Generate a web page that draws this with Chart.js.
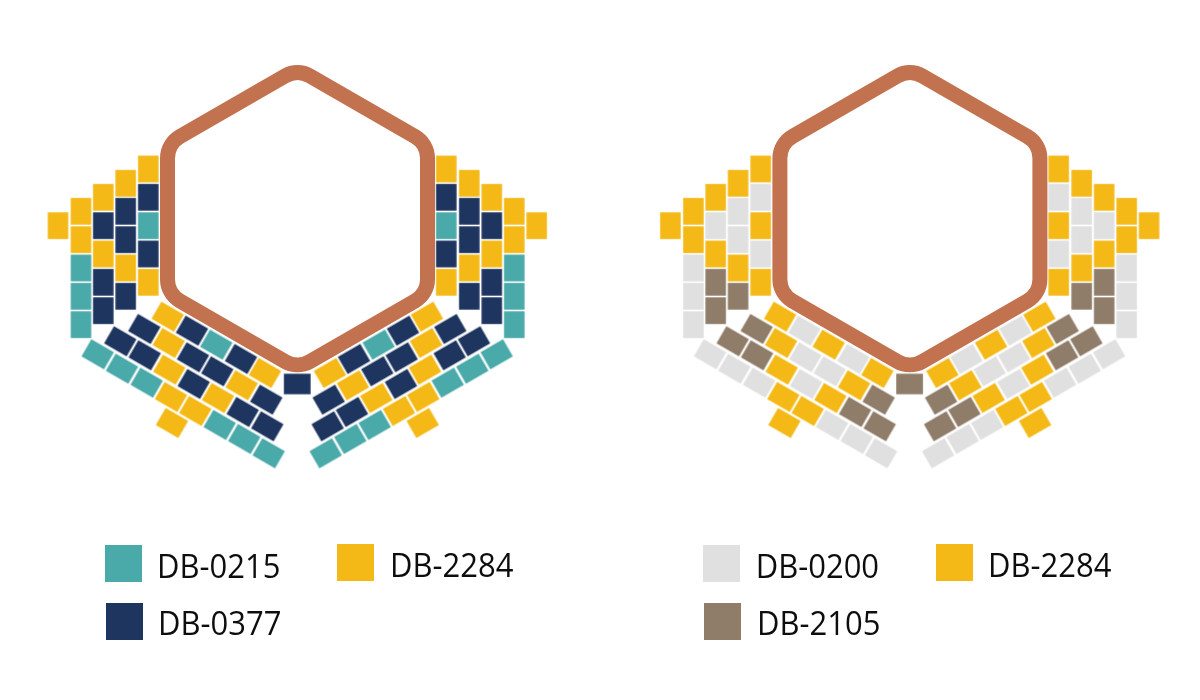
<!DOCTYPE html>
<html lang="en">
<head>
  <meta charset="UTF-8">
  <title>Bead patterns</title>
  <script src="https://cdn.jsdelivr.net/npm/chart.js"></script>
  <style>
    html, body { margin: 0; padding: 0; background: #fff; }
    #wrap { position: relative; width: 1200px; height: 700px; overflow: hidden; }
    canvas { position: absolute; left: 0; top: 0; }
    .swatch { position: absolute; width: 37px; height: 37px; }
    .label {
      position: absolute;
      font-family: "Open Sans", sans-serif;
      font-size: 31px;
      line-height: 40px;
      color: #0d0d0d;
      white-space: nowrap;
      transform: scaleY(1.07);
      transform-origin: 0 32px;
    }
  </style>
</head>
<body>
<div id="wrap"><canvas id="beads" width="1200" height="700"></canvas></div>
<script>
  // bead codes
  const T = 'DB-0215', N = 'DB-0377', G = 'DB-2284', W = 'DB-0200', B = 'DB-2105';

  const colours = {
    'DB-0215': '#4aa9a9',
    'DB-0377': '#1e3560',
    'DB-2284': '#f4b917',
    'DB-0200': '#e0e0e0',
    'DB-2105': '#8f7c69'
  };

  // side panels, outer column first
  const sideLeftX = [58, 81, 81, 81, 81, 81, 103.3, 103.3, 103.3, 103.3, 103.3, 125.7, 125.7, 125.7, 125.7, 125.7, 148.3, 148.3, 148.3, 148.3, 148.3];
  const sideRightX = [536.7, 514.3, 514.3, 514.3, 514.3, 514.3, 491.8, 491.8, 491.8, 491.8, 491.8, 469.3, 469.3, 469.3, 469.3, 469.3, 446.3, 446.3, 446.3, 446.3, 446.3];
  const sideY = [225.7, 211.3, 239.7, 268, 296.3, 324.7, 197.3, 225.7, 254, 282.3, 310.7, 183.3, 211.3, 239.7, 268, 296.3, 169, 197.3, 225.7, 254, 282.3];

  const sideCodesA = [G, G, G, T, T, T, G, N, G, N, N, G, N, N, G, N, G, N, T, N, G];
  const sideCodesB = [G, G, G, W, W, W, G, W, G, B, B, G, W, W, G, B, G, W, G, W, G];

  // lower fans, row next to the hexagon first, outer end of each row first
  const lowerLeftX = [167.7, 192, 216.3, 241, 265,
    144.3, 168.7, 193, 217.3, 241.7, 266.3,
    120.3, 144.7, 169.3, 193.7, 218, 242.7, 267.3,
    97.7, 122, 146.7, 171, 195.3, 219.7, 244.3, 268.7,
    172];
  const lowerRightX = [427, 403, 378.7, 354, 330,
    450.3, 426, 401.7, 377.3, 353, 328.7,
    474, 449.7, 425, 401, 376.3, 352, 327.7,
    496.7, 472.3, 447.7, 423.3, 399, 374.7, 350.3, 325.7,
    422.7];
  const lowerY = [316.7, 330.7, 344.7, 359, 373,
    329, 343, 357.3, 371.3, 385.3, 399.7,
    341.3, 355.3, 369.7, 384, 398, 412, 426.3,
    354.3, 368.7, 382.7, 397, 411, 425, 439, 453.3,
    423];

  const lowerCodesA = [G, N, T, N, G,
    N, G, N, N, G, N,
    N, N, G, N, G, N, N,
    T, T, T, G, G, T, T, T,
    G];
  const lowerCodesB = [G, W, G, W, G,
    B, G, W, W, G, B,
    B, B, G, W, G, B, B,
    W, W, W, G, G, W, W, W,
    G];

  // single bead under the hexagon
  const centreX = 297.2, centreY = 384;
  const centreCodeA = N, centreCodeB = B;

  // hexagon centre line
  const hexX = [297.5, 427.5, 427.5, 297.5, 167.5, 167.5];
  const hexY = [68.7, 143.7, 293.7, 368.7, 293.7, 143.7];

  const panelOffsets = [0, 612.4];

  // legend
  const legendCodes = [[T, G, N], [W, G, B]];
  const legendSwatchX = [[104.7, 337.3, 106], [703, 936, 704.4]];
  const legendSwatchY = [[545.3, 544.3, 603.3], [545.3, 544.3, 603.3]];
  const legendTextX = [[157, 390, 158], [755.7, 988, 757]];
  const legendBaseline = [[577.7, 576.7, 635.3], [577.7, 576.7, 635.3]];

  function beadSprite(colour, w, h) {
    const c = document.createElement('canvas');
    c.width = 29; c.height = 23;
    const ctx = c.getContext('2d');
    ctx.fillStyle = colour;
    ctx.fillRect((29 - w) / 2, (23 - h) / 2, w, h);
    return c;
  }
  const sideSprites = {}, fanSprites = {};
  Object.keys(colours).forEach(k => {
    sideSprites[k] = beadSprite(colours[k], 26.7, 20.5);
    fanSprites[k] = beadSprite(colours[k], 26, 19.8);
  });

  function panelBeads(offset, sideCodes, lowerCodes, centreCode) {
    const list = [];
    sideCodes.forEach((code, i) => {
      list.push({ x: sideLeftX[i] + offset, y: sideY[i], angle: 90, code });
      list.push({ x: sideRightX[i] + offset, y: sideY[i], angle: 90, code });
    });
    lowerCodes.forEach((code, i) => {
      list.push({ x: lowerLeftX[i] + offset, y: lowerY[i], angle: 30, code });
      list.push({ x: lowerRightX[i] + offset, y: lowerY[i], angle: -30, code });
    });
    list.push({ x: centreX + offset, y: centreY, angle: 0, code: centreCode });
    return list;
  }

  const beads = panelBeads(panelOffsets[0], sideCodesA, lowerCodesA, centreCodeA)
    .concat(panelBeads(panelOffsets[1], sideCodesB, lowerCodesB, centreCodeB));

  const beadSets = Object.keys(colours).map(code => {
    const own = beads.filter(b => b.code === code);
    return {
      label: code,
      data: own.map(b => ({ x: b.x, y: b.y })),
      showLine: false,
      pointStyle: own.map(b => (Math.abs(b.angle) === 30 ? fanSprites[code] : sideSprites[code])),
      pointRadius: 10,
      pointBorderWidth: 0,
      pointRotation: own.map(b => b.angle)
    };
  });

  const hexSets = panelOffsets.map(offset => ({
    label: 'hexagon',
    data: hexX.map((x, i) => ({ x: x + offset, y: hexY[i] })),
    showLine: false,
    pointRadius: 0,
    borderColor: '#c2724f',
    borderWidth: 15,
    roundedHex: true
  }));

  // strokes the hexagons through the points the scales placed
  const roundedHexPlugin = {
    id: 'roundedHex',
    afterDatasetsDraw(chart) {
      const ctx = chart.ctx;
      chart.data.datasets.forEach((ds, i) => {
        if (!ds.roundedHex) return;
        const pts = chart.getDatasetMeta(i).data;
        const n = pts.length;
        ctx.save();
        ctx.beginPath();
        ctx.moveTo((pts[0].x + pts[1].x) / 2, (pts[0].y + pts[1].y) / 2);
        for (let k = 1; k <= n; k++) {
          const p = pts[k % n], q = pts[(k + 1) % n];
          ctx.arcTo(p.x, p.y, q.x, q.y, 25);
        }
        ctx.closePath();
        ctx.strokeStyle = ds.borderColor;
        ctx.lineWidth = ds.borderWidth;
        ctx.stroke();
        ctx.restore();
      });
    }
  };

  new Chart(document.getElementById('beads'), {
    type: 'scatter',
    data: { datasets: beadSets.concat(hexSets) },
    plugins: [roundedHexPlugin],
    options: {
      responsive: false,
      animation: false,
      devicePixelRatio: 1,
      layout: { padding: 0, autoPadding: false },
      plugins: { legend: { display: false }, tooltip: { enabled: false } },
      scales: {
        x: { type: 'linear', min: 0, max: 1200, display: false },
        y: { type: 'linear', min: 0, max: 700, reverse: true, display: false }
      }
    }
  });

  const wrap = document.getElementById('wrap');
  legendCodes.forEach((codes, p) => {
    codes.forEach((code, i) => {
      const s = document.createElement('div');
      s.className = 'swatch';
      s.style.left = legendSwatchX[p][i] + 'px';
      s.style.top = legendSwatchY[p][i] + 'px';
      s.style.background = colours[code];
      wrap.appendChild(s);
      const t = document.createElement('div');
      t.className = 'label';
      t.textContent = code;
      t.style.left = legendTextX[p][i] + 'px';
      t.style.top = (legendBaseline[p][i] - 32) + 'px';
      wrap.appendChild(t);
    });
  });
</script>
</body>
</html>
